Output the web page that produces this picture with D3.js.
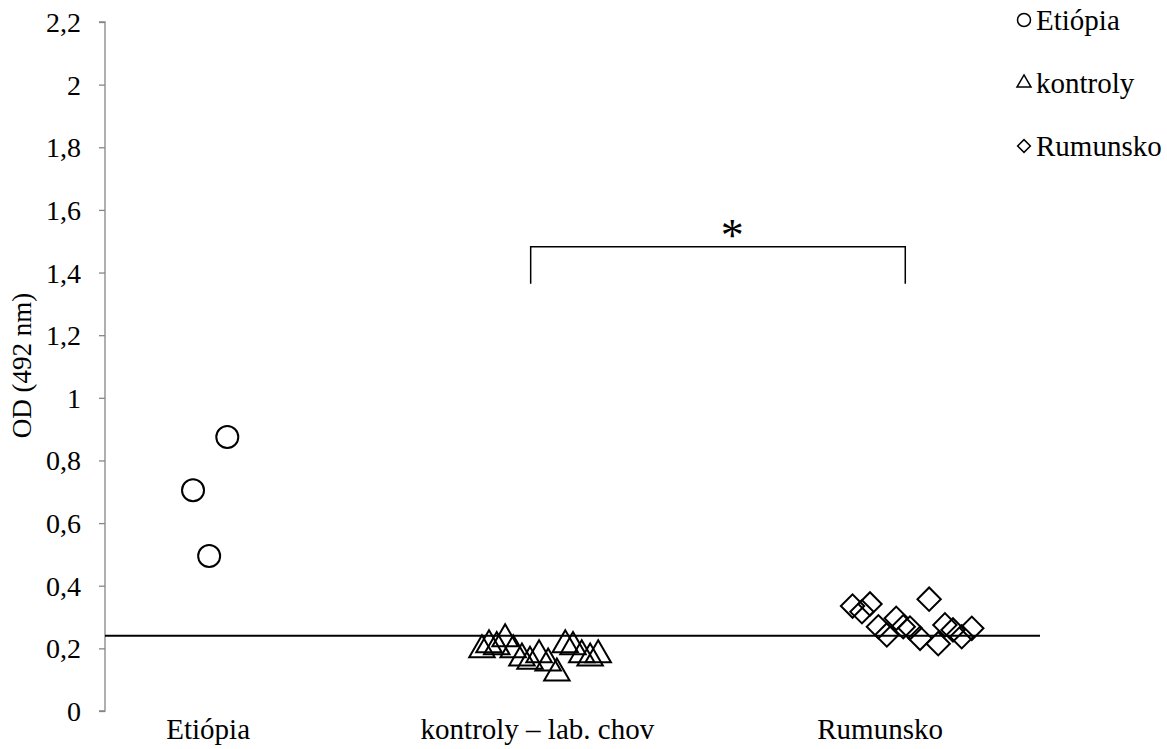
<!DOCTYPE html>
<html>
<head>
<meta charset="utf-8">
<script src="https://cdn.jsdelivr.net/npm/d3@7"></script>
<style>
  html, body { margin: 0; padding: 0; background: #fff; }
  svg { display: block; font-family: "Liberation Serif", "Times New Roman", serif; }
</style>
</head>
<body>
<svg id="chart" width="1167" height="749"></svg>
<script>
// Group labels and their x positions on the axis
const categories = ["Etiópia", "kontroly – lab. chov", "Rumunsko"];
const categoryPos = [1, 1.98, 3.0];

// Etiópia (circles)
const etiopiaX = [1.057, 0.955, 1.003];
const etiopiaY = [0.875, 0.705, 0.495];

// kontroly (triangles)
const kontrolyX = [1.815, 1.836, 1.859, 1.884, 1.908, 1.934, 1.958, 1.985, 2.012, 2.038, 2.063, 2.086, 2.112, 2.137, 2.161];
const kontrolyY = [0.195, 0.211, 0.205, 0.230, 0.195, 0.169, 0.158, 0.179, 0.153, 0.121, 0.211, 0.205, 0.179, 0.169, 0.179];

// Rumunsko (diamonds)
const rumunskoX = [2.918, 2.946, 2.970, 2.995, 3.020, 3.048, 3.069, 3.089, 3.119, 3.146, 3.173, 3.193, 3.217, 3.243, 3.273];
const rumunskoY = [0.335, 0.317, 0.342, 0.269, 0.243, 0.296, 0.269, 0.265, 0.232, 0.357, 0.215, 0.275, 0.259, 0.237, 0.264];

// Cut-off level and significance bracket
const cutoff = 0.24;
const bracketX = [1.96, 3.075];
const bracketTop = 1.482;
const bracketBottom = 1.364;
const starPos = 2.56;

const yTicks = [0, 0.2, 0.4, 0.6, 0.8, 1, 1.2, 1.4, 1.6, 1.8, 2, 2.2];
const legendLabels = ["Etiópia", "kontroly", "Rumunsko"];

const svg = d3.select("#chart");
const plotLeft = 105, plotRight = 1040, plotTop = 22, plotBottom = 711;

const x = d3.scaleLinear().domain([0.693, 3.476]).range([plotLeft, plotRight]);
const y = d3.scaleLinear().domain([0, 2.2]).range([plotBottom, plotTop]);

const fmt = v => String(+v.toFixed(1)).replace(".", ",");

// Y axis
const yAxis = svg.append("g")
  .attr("transform", `translate(${plotLeft},0)`)
  .call(d3.axisLeft(y).tickValues(yTicks).tickFormat(fmt).tickSize(6).tickPadding(18));
yAxis.select(".domain").attr("stroke", "#868686").attr("stroke-width", 1.3)
  .attr("d", `M-6,${y(2.2)}H0V${y(0)}H-6`);
yAxis.selectAll(".tick line").attr("stroke", "#868686").attr("stroke-width", 1.3);
yAxis.selectAll(".tick text")
  .attr("fill", "#000")
  .style("font-family", "'Liberation Serif', serif")
  .style("font-size", "28px")
  .attr("dy", "0.34em");

// Y axis title
svg.append("text")
  .attr("transform", `translate(31,${(plotTop + plotBottom) / 2 - 1}) rotate(-90)`)
  .attr("text-anchor", "middle")
  .style("font-size", "27px")
  .text("OD (492 nm)");

// Category labels
svg.append("g").selectAll("text")
  .data(categories)
  .join("text")
  .attr("x", (d, i) => x(categoryPos[i]))
  .attr("y", 739)
  .attr("text-anchor", "middle")
  .style("font-size", "29px")
  .text(d => d);

// Cut-off line
svg.append("line")
  .attr("x1", plotLeft).attr("x2", plotRight)
  .attr("y1", y(cutoff)).attr("y2", y(cutoff))
  .attr("stroke", "#000").attr("stroke-width", 2);

// Significance bracket
svg.append("path")
  .attr("d", `M${x(bracketX[0])},${y(bracketBottom)}V${y(bracketTop)}H${x(bracketX[1])}V${y(bracketBottom)}`)
  .attr("fill", "none").attr("stroke", "#000").attr("stroke-width", 1.5);
svg.append("text")
  .attr("x", x(starPos))
  .attr("y", y(bracketTop) + 4)
  .attr("text-anchor", "middle")
  .style("font-size", "46px")
  .text("*");

// Markers
const circleSym = d3.symbol().type(d3.symbolCircle).size(Math.PI * 11 * 11);
const triSym = d3.symbol().type(d3.symbolTriangle).size(280);
const diaSym = d3.symbol().type(d3.symbolSquare).size(16.5 * 16.5);

function drawSeries(xs, ys, sym, rot) {
  svg.append("g").selectAll("path")
    .data(xs.map((v, i) => [v, ys[i]]))
    .join("path")
    .attr("d", sym)
    .attr("transform", d => `translate(${x(d[0])},${y(d[1])}) rotate(${rot})`)
    .attr("fill", "none")
    .attr("stroke", "#000")
    .attr("stroke-width", 2);
}
drawSeries(etiopiaX, etiopiaY, circleSym, 0);
drawSeries(kontrolyX, kontrolyY, triSym, 0);
drawSeries(rumunskoX, rumunskoY, diaSym, 45);

// Legend
const legendSyms = [
  { s: d3.symbol().type(d3.symbolCircle).size(Math.PI * 6.5 * 6.5), r: 0 },
  { s: d3.symbol().type(d3.symbolTriangle).size(85), r: 0 },
  { s: d3.symbol().type(d3.symbolSquare).size(9 * 9), r: 45 }
];
const legend = svg.append("g");
legendLabels.forEach((lab, i) => {
  const ly = 20 + i * 63;
  legend.append("path")
    .attr("d", legendSyms[i].s)
    .attr("transform", `translate(1024,${ly}) rotate(${legendSyms[i].r})`)
    .attr("fill", "none").attr("stroke", "#000").attr("stroke-width", 1.5);
  legend.append("text")
    .attr("x", 1036).attr("y", ly)
    .attr("dy", "0.35em")
    .style("font-size", "29px")
    .text(lab);
});
</script>
</body>
</html>
